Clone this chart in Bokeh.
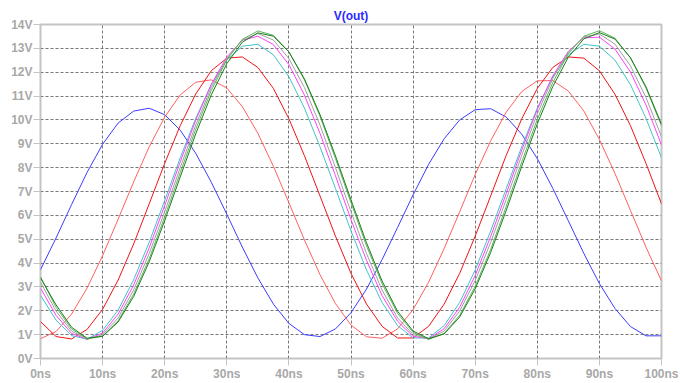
from bokeh.plotting import figure
from bokeh.models import FixedTicker, Range1d
from bokeh.embed import file_html
from bokeh.resources import INLINE

# ---- data ----
time_ns = [0, 2.5, 5, 7.5, 10, 12.5, 15, 17.5, 20, 22.5, 25, 27.5, 30, 32.5, 35, 37.5,
           40, 42.5, 45, 47.5, 50, 52.5, 55, 57.5, 60, 62.5, 65, 67.5, 70, 72.5, 75,
           77.5, 80, 82.5, 85, 87.5, 90, 92.5, 95, 97.5, 100]

v_blue = [3.72, 5.05, 6.45, 7.8, 8.98, 9.87, 10.37, 10.49, 10.22, 9.57, 8.60, 7.39, 6.05,
          4.67, 3.38, 2.28, 1.47, 1.00, 0.92, 1.24, 1.92, 2.91, 4.14, 5.49, 6.86, 8.14,
          9.21, 10.0, 10.43, 10.47, 10.12, 9.40, 8.38, 7.13, 5.77, 4.40, 3.14, 2.10, 1.34,
          0.95, 0.95]
v_salmon = [0.83, 1.13, 1.86, 2.95, 4.31, 5.84, 7.40, 8.87, 10.12, 11.05, 11.58, 11.68,
            11.34, 10.56, 9.44, 8.06, 6.53, 4.97, 3.52, 2.30, 1.40, 0.91, 0.85, 1.24, 2.05,
            3.20, 4.61, 6.15, 7.71, 9.13, 10.33, 11.19, 11.64, 11.65, 11.21, 10.37, 9.18,
            7.76, 6.21, 4.67, 3.25]
v_red = [1.55, 0.92, 0.82, 1.22, 2.06, 3.29, 4.80, 6.48, 8.18, 9.76, 11.09, 12.06, 12.59,
         12.64, 12.20, 11.32, 10.05, 8.50, 6.82, 5.13, 3.57, 2.28, 1.35, 0.86, 0.86, 1.35,
         2.28, 3.57, 5.13, 6.82, 8.52, 10.05, 11.32, 12.20, 12.64, 12.59, 12.06, 11.08,
         9.76, 8.18, 6.48]
v_cyan = [2.65, 1.61, 0.96, 0.81, 1.18, 2.03, 3.30, 4.87, 6.62, 8.41, 10.07, 11.48, 12.51,
          13.09, 13.17, 12.73, 11.81, 10.50, 8.88, 7.13, 5.35, 3.71, 2.35, 1.38, 0.86, 0.86,
          1.38, 2.35, 3.71, 5.35, 7.13, 8.88, 10.50, 11.81, 12.73, 13.17, 13.09, 12.51,
          11.48, 10.07, 8.41]
v_magenta = [2.95, 1.81, 1.05, 0.80, 1.07, 1.86, 3.08, 4.64, 6.41, 8.24, 9.99, 11.49, 12.64,
             13.34, 13.51, 13.16, 12.32, 11.04, 9.44, 7.66, 5.82, 4.11, 2.64, 1.56, 0.93,
             0.83, 1.25, 2.15, 3.48, 5.12, 6.92, 8.74, 10.44, 11.85, 12.88, 13.44, 13.47,
             12.97, 12.01, 10.63, 8.95]
v_gray = [3.20, 1.99, 1.15, 0.81, 1.00, 1.70, 2.87, 4.40, 6.15, 8.00, 9.79, 11.36, 12.57,
          13.35, 13.62, 13.35, 12.57, 11.36, 9.79, 8.00, 6.15, 4.40, 2.87, 1.70, 1.00, 0.81,
          1.15, 1.99, 3.27, 4.87, 6.67, 8.52, 10.26, 11.74, 12.84, 13.48, 13.60, 13.18,
          12.27, 10.94, 9.30]
v_lgreen = [3.42, 2.15, 1.24, 0.82, 0.94, 1.58, 2.70, 4.18, 5.94, 7.79, 9.61, 11.23, 12.52,
            13.38, 13.73, 13.55, 12.85, 11.68, 10.16, 8.38, 6.53, 4.72, 3.14, 1.89, 1.09,
            0.80, 1.05, 1.81, 3.03, 4.58, 6.38, 8.24, 10.03, 11.57, 12.78, 13.51, 13.74,
            13.43, 12.60, 11.34, 9.75]
v_dgreen = [3.38, 2.25, 1.31, 0.85, 0.93, 1.53, 2.60, 4.05, 5.78, 7.61, 9.42, 11.05, 12.36,
            13.26, 13.65, 13.51, 12.85, 11.72, 10.23, 8.49, 6.65, 4.85, 3.25, 1.98, 1.15,
            0.83, 1.03, 1.74, 2.92, 4.45, 6.21, 8.06, 9.84, 11.40, 12.63, 13.40, 13.66,
            13.39, 12.61, 11.39, 9.82]

x_ticks = [0, 10, 20, 30, 40, 50, 60, 70, 80, 90, 100]
x_tick_labels = ["0ns", "10ns", "20ns", "30ns", "40ns", "50ns", "60ns", "70ns", "80ns",
                 "90ns", "100ns"]
y_ticks = [0, 1, 2, 3, 4, 5, 6, 7, 8, 9, 10, 11, 12, 13, 14]
y_tick_labels = ["0V", "1V", "2V", "3V", "4V", "5V", "6V", "7V", "8V", "9V", "10V", "11V",
                 "12V", "13V", "14V"]

series = [
    (v_blue, "#3c3cff"),
    (v_salmon, "#ff6060"),
    (v_red, "#f01414"),
    (v_cyan, "#40c4c4"),
    (v_magenta, "#ff40ff"),
    (v_gray, "#a0a0a0"),
    (v_lgreen, "#60b460"),
    (v_dgreen, "#1a7f1a"),
]

FONT = "Liberation Sans"
LABEL_COLOR = "#a8a8a8"

p = figure(width=680, height=383, output_backend="svg", toolbar_location=None,
           x_range=Range1d(0, 100), y_range=Range1d(0, 14),
           min_border_left=40, min_border_right=19, min_border_top=24,
           min_border_bottom=25,
           background_fill_color="white", border_fill_color="white")

p.title.text = "V(out)"
p.title.align = "center"
p.title.text_color = "#2b2bff"
p.title.text_font = FONT
p.title.text_font_size = "12px"
p.title.text_font_style = "bold"
p.title.standoff = 4

p.outline_line_color = "#c4c4c4"
p.outline_line_width = 2

for ax, ticks, labels in ((p.xaxis[0], x_ticks, x_tick_labels),
                          (p.yaxis[0], y_ticks, y_tick_labels)):
    ax.ticker = FixedTicker(ticks=ticks)
    ax.major_label_overrides = {t: l for t, l in zip(ticks, labels)}
    ax.axis_line_color = None
    ax.major_tick_line_color = "#c4c4c4"
    ax.major_tick_line_width = 1
    ax.major_tick_out = 7
    ax.major_tick_in = 0
    ax.minor_tick_line_color = None
    ax.major_label_text_color = LABEL_COLOR
    ax.major_label_text_font = FONT
    ax.major_label_text_font_size = "12px"
    ax.major_label_text_font_style = "bold"

p.xaxis.major_label_standoff = 1
p.yaxis.major_label_standoff = 1

p.xgrid.ticker = FixedTicker(ticks=x_ticks)
p.ygrid.ticker = FixedTicker(ticks=y_ticks)
for g in (p.xgrid[0], p.ygrid[0]):
    g.grid_line_color = "#777777"
    g.grid_line_dash = "3 2"
    g.grid_line_width = 1

for vals, col in series:
    p.line(time_ns, vals, line_color=col, line_width=1)

open("out.html", "w").write(file_html(p, INLINE))
